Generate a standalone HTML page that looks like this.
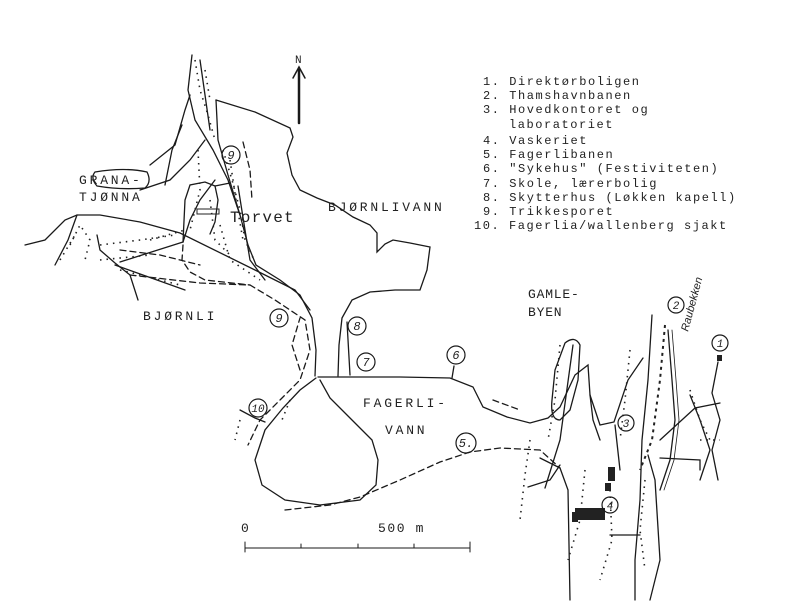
<!DOCTYPE html>
<html><head><meta charset="utf-8"><style>
html,body{margin:0;padding:0;background:#fff}
svg{display:block}
text{font-family:"Liberation Mono",monospace;fill:#222}
</style></head><body>
<svg width="800" height="602" viewBox="0 0 800 602" xmlns="http://www.w3.org/2000/svg">
<rect width="800" height="602" fill="#fff"/>
<g fill="none" stroke="#1a1a1a" stroke-width="1.3" stroke-linecap="round">
<line x1="299" y1="123" x2="299" y2="70" stroke-width="2.5"/>
<path d="M293 78 L299 67 L305 78" stroke-width="1.5"/>
<path d="M216 100 L255 112 L290 128 L293 137 L287 153 L292 175 L300 190 L317 198 L335 205 L353 217 L370 225 L377 233 L377 252 L385 244 L393 240 L410 243 L430 247 L427 270 L420 290 L395 290 L370 292 L352 300 L342 318 L339 345 L338 376"/>
<path d="M216 100 L218 140 L228 175 L240 215 L248 245 L256 265 L280 280 L300 295 L312 318 L316 350 L315 376"/>
<path d="M192 55 L188 90 L195 120 L213 150 L228 180 L240 215"/>
<path d="M200 60 L205 95 L210 130"/>
<path d="M150 165 L175 145 L185 110 L190 95"/>
<path d="M182 125 L172 150 L165 185"/>
<path d="M140 190 L170 180 L190 160 L205 140"/>
<path d="M25 245 L45 240 L65 220 L77 215 L100 215 L140 222 L180 233 L255 270 L295 290 L310 310"/>
<path d="M77 215 L68 240 L55 265"/>
<path d="M97 235 L100 250 L115 263 L130 275 L138 300"/>
<path d="M120 262 L183 242"/>
<path d="M183 242 L190 220 L200 200 L215 180"/>
<path d="M183 242 L185 200 L190 185 L205 182 L215 186 L218 200 L215 222 L210 234"/>
<path d="M215 186 L230 183"/>
<path d="M238 186 L245 230 L250 260 L265 280"/>
<path d="M95 172 Q125 167 147 172 Q152 182 145 188 Q120 190 97 186 Q90 178 95 172 Z"/>
<path d="M115 265 L185 290" />
<g stroke-dasharray="6 4">
<path d="M120 250 L160 255 L200 265"/>
<path d="M130 275 L200 283 L250 285 L275 300 L305 320 L310 350 L300 380 L280 400 L260 420 L248 445"/>
<path d="M183 245 L182 260 L190 272 L205 280 L250 285"/>
<path d="M300 370 L292 345 L300 318"/>
<path d="M285 510 L330 505 L360 497 L400 480 L440 462 L470 452 L500 448 L540 450 L560 468"/>
<path d="M243 142 L250 170 L252 200"/>
<path d="M493 400 L520 410" />
</g>
<path d="M316 378 L300 390 L283 408 L265 430 L255 460 L262 485 L285 500 L320 505 L360 500 L376 485 L378 460 L372 440 L350 418 L330 398 L320 380"/>
<path d="M318 377 L400 377 L450 378 L473 387 L483 407 L507 417 L530 423 L548 418 L560 407 L575 375 L588 365 L590 395 L593 420 L600 440"/>
<path d="M347 322 L350 375"/>
<path d="M454 366 L452 378"/>
<path d="M240 410 L255 418 L265 422"/>
<path d="M565 343 Q575 335 580 345 L578 380 L570 410 L560 420 Q550 420 552 400 L555 370 Z"/>
<path d="M573 345 L560 440 L545 488"/>
<path d="M540 458 L560 468 L568 490 L570 600"/>
<path d="M528 487 L550 480 L560 465"/>
<path d="M590 395 L600 425 L614 422 L628 380 L643 358"/>
<path d="M652 315 L648 380 L642 440 L640 500 L635 560 L635 600"/>
<path d="M615 425 L620 470"/>
<path d="M648 455 L655 480 L660 560 L650 600"/>
<path d="M660 440 L695 408 L720 403"/>
<path d="M660 458 L700 460 L700 470"/>
<path d="M690 395 L700 420 L710 450 L700 480"/>
<path d="M718 362 L712 393 L720 420 L712 450 L718 480"/>
<path d="M668 330 L672 380 L675 420 L670 460 L660 490"/>
<path d="M672 330 L676 380 L679 420 L674 460 L664 490" stroke-width="0.8"/>
<path d="M610 535 L640 535"/>
<path d="M245 548 L470 548" stroke-width="1"/>
<path d="M245 542 L245 552 M301 544 L301 548 M358 544 L358 548 M414 544 L414 548 M470 542 L470 552" stroke-width="1"/>
</g>
<g fill="#222">
<rect x="575" y="508" width="30" height="12"/>
<rect x="572" y="512" width="6" height="10"/>
<rect x="608" y="467" width="7" height="14"/>
<rect x="605" y="483" width="6" height="8"/>
<rect x="197" y="209" width="22" height="5" fill="none" stroke="#222"/>
<rect x="717" y="355" width="5" height="6"/>
</g>
<g stroke="#222" stroke-width="1.6" stroke-dasharray="1.5 5" fill="none">
<path d="M195 60 L200 90 L208 115 L215 140"/>
<path d="M205 70 L210 100"/>
<path d="M223 150 L232 180 L240 210 L245 240 L255 262"/>
<path d="M230 160 L236 200 L243 240"/>
<path d="M198 150 L200 190 L190 230"/>
<path d="M210 200 L215 240 L230 255"/>
<path d="M70 245 L80 225 L90 240 L85 260"/>
<path d="M60 260 L75 235"/>
<path d="M100 245 L140 240 L175 235"/>
<path d="M100 260 L150 255"/>
<path d="M150 240 L185 230"/>
<path d="M120 270 L180 285"/>
<path d="M220 225 L230 260 L260 280"/>
<path d="M290 400 L282 420"/>
<path d="M560 345 L555 400 L548 440"/>
<path d="M665 325 L660 380 L652 440 L640 470" stroke-dasharray="3 4" stroke-width="2"/>
<path d="M630 350 L625 400 L620 440"/>
<path d="M645 480 L640 530 L645 570"/>
<path d="M610 490 L612 540 L600 580"/>
<path d="M585 470 L580 520 L568 560"/>
<path d="M530 440 L525 475 L520 520"/>
<path d="M690 390 L700 420 L710 440"/>
<path d="M700 440 L720 440"/>
<path d="M240 420 L235 440"/>
</g>
<g fill="none" stroke="#1a1a1a" stroke-width="1.2">
<circle cx="231" cy="155" r="9"/>
<circle cx="279" cy="318" r="9"/>
<circle cx="357" cy="326" r="9"/>
<circle cx="366" cy="362" r="9"/>
<circle cx="456" cy="355" r="9"/>
<circle cx="258" cy="408" r="9"/>
<circle cx="466" cy="443" r="10"/>
<circle cx="676" cy="305" r="8"/>
<circle cx="720" cy="343" r="8"/>
<circle cx="626" cy="423" r="8"/>
<circle cx="610" cy="505" r="8"/>
</g>
<g font-size="12" font-style="italic" text-anchor="middle" style="font-family:'Liberation Sans',sans-serif">
<text x="231" y="159">9</text>
<text x="279" y="322">9</text>
<text x="357" y="330">8</text>
<text x="366" y="366">7</text>
<text x="456" y="359">6</text>
<text x="258" y="412" font-size="11">10</text>
<text x="466" y="447">5.</text>
<text x="676" y="309" font-size="11">2</text>
<text x="720" y="347" font-size="11">1</text>
<text x="626" y="427" font-size="11">3</text>
<text x="610" y="509" font-size="11">4</text>
</g>
<g font-size="13" letter-spacing="2.8">
<text x="295" y="63" font-size="11" letter-spacing="0">N</text>
<text x="79" y="184">GRANA-</text>
<text x="79" y="201">TJØNNA</text>
<text x="230" y="222" font-size="16" letter-spacing="1.2">Torvet</text>
<text x="328" y="211">BJØRNLIVANN</text>
<text x="143" y="320">BJØRNLI</text>
<text x="363" y="407">FAGERLI-</text>
<text x="385" y="434">VANN</text>
<text x="528" y="298" letter-spacing="0.8">GAMLE-</text>
<text x="528" y="316" letter-spacing="0.8">BYEN</text>
<text x="241" y="532">0</text>
<text x="378" y="532" letter-spacing="1.6">500 m</text>
<text x="0" y="0" font-size="11" font-style="italic" letter-spacing="0" transform="translate(688,332) rotate(-75)" style="font-family:'Liberation Sans',sans-serif">Raubekken</text>
</g>
<g font-size="12" letter-spacing="1.55">
<text x="483" y="85">1. Direktørboligen</text>
<text x="483" y="99">2. Thamshavnbanen</text>
<text x="483" y="113">3. Hovedkontoret og</text>
<text x="509" y="128">laboratoriet</text>
<text x="483" y="144">4. Vaskeriet</text>
<text x="483" y="158">5. Fagerlibanen</text>
<text x="483" y="172">6. "Sykehus" (Festiviteten)</text>
<text x="483" y="187">7. Skole, lærerbolig</text>
<text x="483" y="201">8. Skytterhus (Løkken kapell)</text>
<text x="483" y="215">9. Trikkesporet</text>
<text x="474" y="229">10. Fagerlia/wallenberg sjakt</text>
</g>
</svg>
</body></html>
